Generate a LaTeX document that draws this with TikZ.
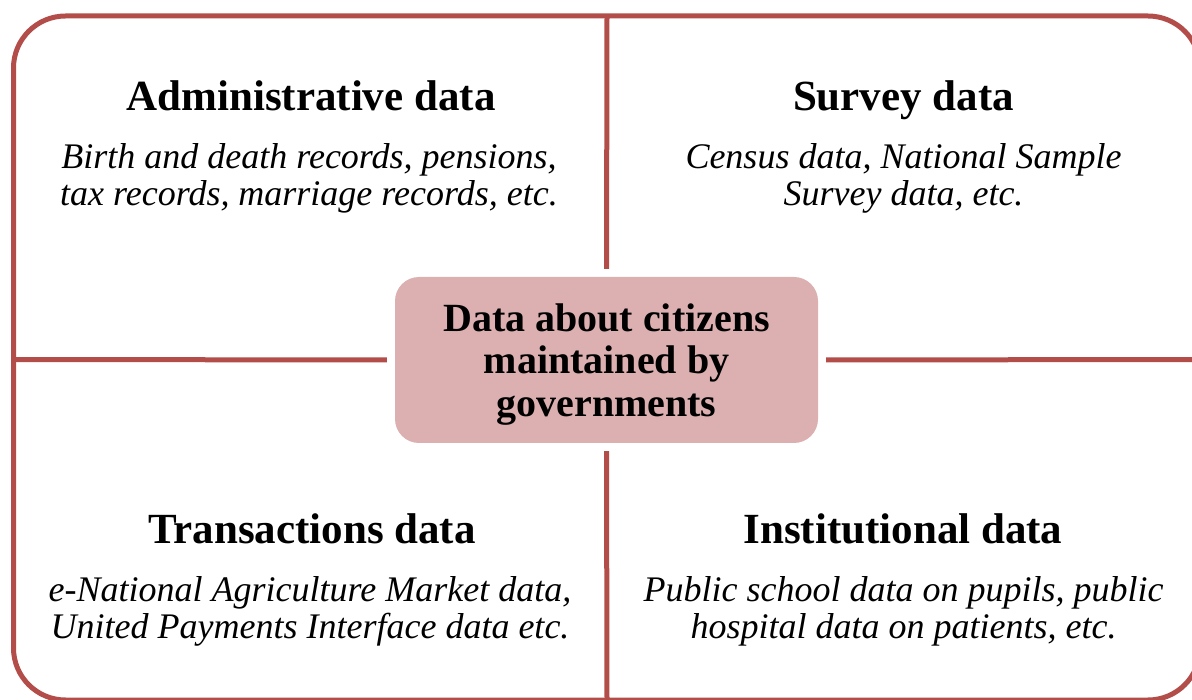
\documentclass[tikz,border=0pt]{standalone}
\usepackage{fontspec}
\setmainfont{Liberation Serif}
\definecolor{frame}{HTML}{B24D49}
\definecolor{boxfill}{HTML}{DCB0B0}
\tikzset{
  framestyle/.style={draw=frame, line width=5pt, rounded corners=52pt},
  divider/.style={draw=frame, line width=5pt},
  centerbox/.style={fill=boxfill, rounded corners=24pt, minimum width=423pt, minimum height=166pt, inner sep=0pt,
    align=center, text depth=0pt, font=\bfseries\fontsize{40}{42.5}\selectfont},
  heading/.style={anchor=base, inner sep=0pt, font=\bfseries\fontsize{43}{43}\selectfont},
  desc/.style={anchor=base, inner sep=0pt, align=center, font=\itshape\fontsize{36}{36.5}\selectfont},
}
\begin{document}
\begin{tikzpicture}[x=1pt,y=-1pt]
\useasboundingbox (0,0) rectangle (1192,700);
\clip (0,0) rectangle (1192,700);
% outer frame
\draw[framestyle] (13.5,16) rectangle (1200,700);
\coordinate (ftop) at (607,16);
\coordinate (fbot) at (607,700);
\coordinate (fleft) at (13.5,359.5);
\coordinate (fright) at (1200,359.5);
% centre box
\node[centerbox] (hub) at (606.5,360) {Data about citizens\\maintained by\\governments};
% dividers
\draw[divider, shorten <=8pt] (hub.north) -- (ftop);
\draw[divider, shorten <=8pt] (hub.south) -- (fbot);
\draw[divider, shorten <=8pt] (hub.west) -- (fleft);
\draw[divider, shorten <=8pt] (hub.east) -- (fright);
% quadrants
\node[heading] (admh) at (311,111) {Administrative data};
\node[desc] (admd) at (309,205.5) {Birth and death records, pensions,\\tax records, marriage records, etc.};
\node[heading] (survh) at (903.5,111) {Survey data};
\node[desc] (survd) at (903.5,205.5) {Census data, National Sample\\Survey data, etc.};
\node[heading] (transh) at (312,543) {Transactions data};
\node[desc] (transd) at (310,638) {e-National Agriculture Market data,\\United Payments Interface data etc.};
\node[heading] (insth) at (903,543) {Institutional data};
\node[desc] (instd) at (903.5,638) {Public school data on pupils, public\\hospital data on patients, etc.};
\end{tikzpicture}
\end{document}
